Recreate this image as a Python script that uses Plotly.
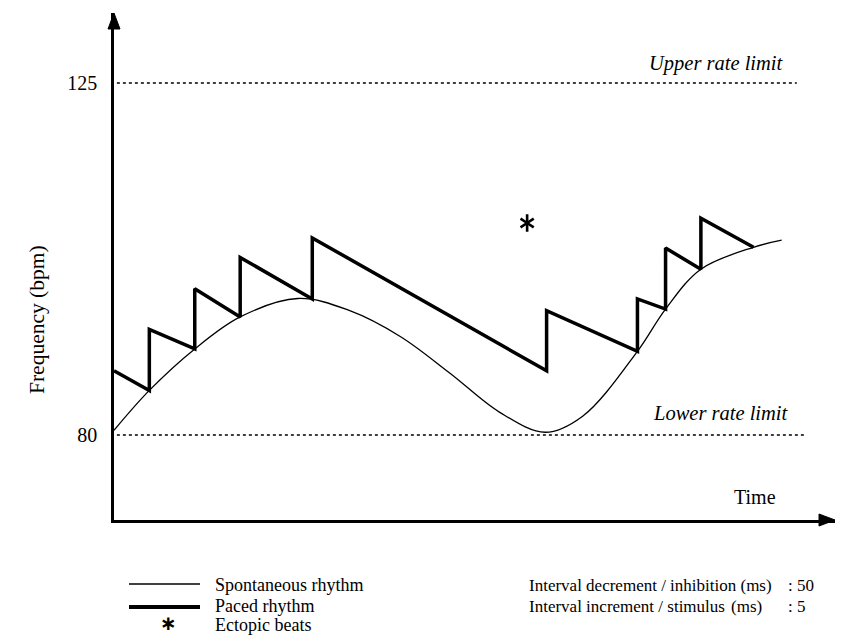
import plotly.graph_objects as go

# ---- data ----
spont_t = [0, 4.9, 11.2, 17.5, 25.5, 32.7, 39.7, 46.6, 53.5, 59.8, 65.0, 72.6, 76.5, 81.4, 88.7, 92.6]
spont_bpm = [80.6, 85.7, 91.0, 95.1, 97.45, 95.9, 92.6, 87.9, 82.9, 80.35, 82.4, 90.7, 96.1, 101.2, 104.0, 104.9]

paced_t = [0, 4.9, 4.9, 11.2, 11.2, 17.5, 17.5, 27.5, 27.5, 60.0, 60.0, 72.6, 72.6, 76.5, 76.5, 81.4, 81.4, 88.7]
paced_bpm = [88.2, 85.7, 93.5, 91.0, 98.7, 95.1, 102.7, 97.4, 105.2, 88.2, 95.9, 90.7, 97.4, 96.1, 103.9, 101.2, 107.7, 104.0]

ectopic_t = [57.3]
ectopic_bpm = [107.1]

upper_limit = 125
lower_limit = 80
tick_vals = [80, 125]
tick_text = ["80", "125"]

legend_labels = ["Spontaneous rhythm", "Paced rhythm", "Ectopic beats"]
decrement_ms = 50
increment_ms = 5

FONT = "Liberation Serif, Times New Roman, serif"

fig = go.Figure()

# rate limits (dotted)
fig.add_trace(go.Scatter(x=[0.4, 94.7], y=[upper_limit, upper_limit], mode="lines",
                         line=dict(color="black", width=1.6, dash="dot"), hoverinfo="skip", showlegend=False))
fig.add_trace(go.Scatter(x=[0.4, 96.1], y=[lower_limit, lower_limit], mode="lines",
                         line=dict(color="black", width=1.6, dash="dot"), hoverinfo="skip", showlegend=False))

# spontaneous rhythm
fig.add_trace(go.Scatter(x=spont_t, y=spont_bpm, mode="lines", name=legend_labels[0],
                         line=dict(color="black", width=1.3, shape="spline", smoothing=1.0),
                         showlegend=False))
# paced rhythm
fig.add_trace(go.Scatter(x=paced_t, y=paced_bpm, mode="lines", name=legend_labels[1],
                         line=dict(color="black", width=3.5), showlegend=False))
# ectopic beats (six-armed asterisk = y-up + y-down)
for sym in ["y-up-open", "y-down-open"]:
    fig.add_trace(go.Scatter(x=ectopic_t, y=ectopic_bpm, mode="markers", name=legend_labels[2],
                             marker=dict(symbol=sym, size=11, color="black",
                                         line=dict(color="black", width=2.6)),
                             showlegend=False))

W, H = 841, 638
L, R, T, B = 114, 6, 13, 118
pw, ph = W - L - R, H - T - B


def px(xp):
    return (xp - L) / pw


def py(yp):
    return (H - B - yp) / ph


shapes = []
# arrow heads
shapes.append(dict(type="path", xref="paper", yref="paper", xsizemode="pixel", ysizemode="pixel",
                   xanchor=1, yanchor=0, path="M0,0 L-16,6 L-16,-6 Z",
                   fillcolor="black", line=dict(color="black", width=1)))
shapes.append(dict(type="path", xref="paper", yref="paper", xsizemode="pixel", ysizemode="pixel",
                   xanchor=0, yanchor=1, path="M0,0 L-6,-16 L6,-16 Z",
                   fillcolor="black", line=dict(color="black", width=1)))
# legend samples
shapes.append(dict(type="line", xref="paper", yref="paper", x0=px(129), x1=px(200), y0=py(584), y1=py(584),
                   line=dict(color="black", width=1.5)))
shapes.append(dict(type="line", xref="paper", yref="paper", x0=px(129), x1=px(200), y0=py(607), y1=py(607),
                   line=dict(color="black", width=4)))

ann = []
ann.append(dict(x=83.6, y=127.5, xref="x", yref="y", text="<i>Upper rate limit</i>", showarrow=False,
                font=dict(family=FONT, size=20.5, color="black"), xanchor="center", yanchor="middle"))
ann.append(dict(x=84.2, y=82.8, xref="x", yref="y", text="<i>Lower rate limit</i>", showarrow=False,
                font=dict(family=FONT, size=20.5, color="black"), xanchor="center", yanchor="middle"))
ann.append(dict(x=88.9, y=72.1, xref="x", yref="y", text="Time", showarrow=False,
                font=dict(family=FONT, size=20, color="black"), xanchor="center", yanchor="middle"))
ann.append(dict(x=px(37), y=py(320), xref="paper", yref="paper", text="Frequency (bpm)", showarrow=False,
                textangle=-90, font=dict(family=FONT, size=21.5, color="black"), xanchor="center", yanchor="middle"))
# legend texts
for lbl, yy in zip(legend_labels, [585, 606, 625]):
    ann.append(dict(x=px(213), y=py(yy), xref="paper", yref="paper", text=lbl, showarrow=False,
                    font=dict(family=FONT, size=18, color="black"), xanchor="left", yanchor="middle"))
# parameter texts
PF = dict(family=FONT, size=17, color="black")
ann.append(dict(x=px(527), y=py(585), xref="paper", yref="paper",
                text="Interval decrement / inhibition (ms)", showarrow=False,
                font=PF, xanchor="left", yanchor="middle"))
ann.append(dict(x=px(527), y=py(606), xref="paper", yref="paper",
                text="Interval increment / stimulus", showarrow=False,
                font=PF, xanchor="left", yanchor="middle"))
ann.append(dict(x=px(729), y=py(606), xref="paper", yref="paper", text="(ms)", showarrow=False,
                font=PF, xanchor="left", yanchor="middle"))
ann.append(dict(x=px(786), y=py(585), xref="paper", yref="paper", text=f": {decrement_ms}", showarrow=False,
                font=PF, xanchor="left", yanchor="middle"))
ann.append(dict(x=px(786), y=py(606), xref="paper", yref="paper", text=f": {increment_ms}", showarrow=False,
                font=PF, xanchor="left", yanchor="middle"))
# legend asterisk
ann.append(dict(x=px(168), y=py(623), xref="paper", yref="paper", text="<b>∗</b>", showarrow=False,
                font=dict(family="DejaVu Sans", size=20, color="black"), xanchor="center", yanchor="middle"))

fig.update_layout(
    width=W, height=H,
    margin=dict(l=L, r=R, t=T, b=B, pad=0),
    paper_bgcolor="white", plot_bgcolor="white",
    showlegend=False,
    shapes=shapes, annotations=ann,
    xaxis=dict(range=[0, 100], showgrid=False, zeroline=False, showticklabels=False, ticks="",
               showline=True, linecolor="black", linewidth=3, fixedrange=True),
    yaxis=dict(range=[80 - 85 / 7.822, 80 + 422 / 7.822], showgrid=False, zeroline=False,
               tickvals=tick_vals, ticktext=tick_text, ticks="", ticklabelstandoff=10,
               tickfont=dict(family=FONT, size=20, color="black"),
               showline=True, linecolor="black", linewidth=2.5, fixedrange=True),
)

fig.write_html("out.html", config={"displayModeBar": False},
               post_script="document.body.style.margin='0px';")
